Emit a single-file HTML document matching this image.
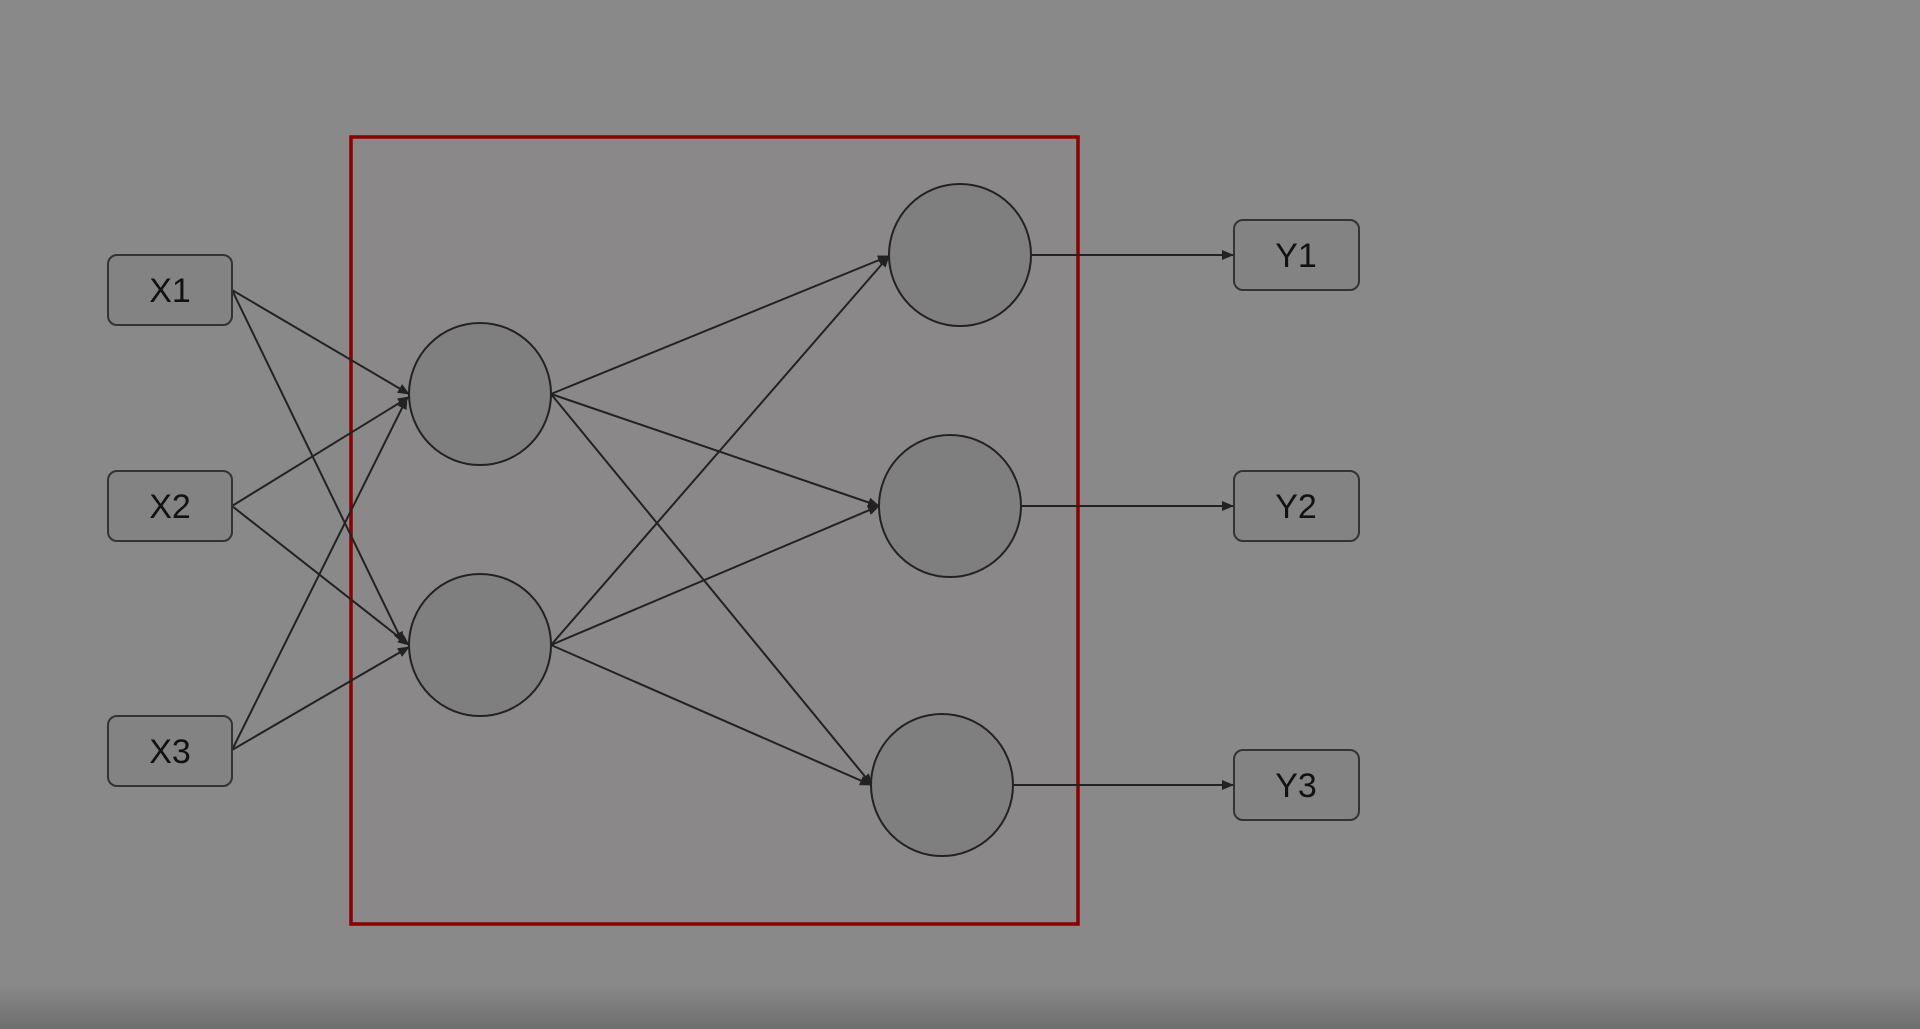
<!DOCTYPE html>
<html><head><style>
html,body{margin:0;padding:0;}
body{width:1920px;height:1029px;overflow:hidden;background:linear-gradient(to bottom,#898989 0,#898989 985px,#6e6e6e 1029px);}
svg{position:absolute;left:0;top:0;}
text{font-family:"Liberation Sans",sans-serif;font-size:34px;fill:#111;}
</style></head><body>
<svg width="1920" height="1029">
<defs><marker id="a" markerWidth="12" markerHeight="10" refX="11" refY="5" orient="auto" markerUnits="userSpaceOnUse"><path d="M0,0 L12,5 L0,10 z" fill="#222"/></marker></defs>
<rect x="351" y="137" width="727" height="787" fill="#8a8888" stroke="#8b0000" stroke-width="3.5"/>
<g stroke="#222" stroke-width="2" fill="none" marker-end="url(#a)">
<line x1="232" y1="290" x2="409" y2="394"/>
<line x1="232" y1="290" x2="403" y2="643"/>
<line x1="232" y1="506" x2="409" y2="397"/>
<line x1="232" y1="506" x2="409" y2="645"/>
<line x1="232" y1="750" x2="407" y2="398"/>
<line x1="232" y1="750" x2="409" y2="647"/>
<line x1="551" y1="394" x2="889" y2="256"/>
<line x1="551" y1="394" x2="879" y2="506"/>
<line x1="551" y1="394" x2="872" y2="785"/>
<line x1="551" y1="645" x2="889" y2="256"/>
<line x1="551" y1="645" x2="879" y2="506"/>
<line x1="551" y1="645" x2="871" y2="785"/>
<line x1="1031" y1="255" x2="1233" y2="255"/>
<line x1="1021" y1="506" x2="1233" y2="506"/>
<line x1="1013" y1="785" x2="1233" y2="785"/>
</g>
<g fill="#7f7f7f" stroke="#222" stroke-width="2">
<circle cx="480" cy="394" r="71"/><circle cx="480" cy="645" r="71"/>
<circle cx="960" cy="255" r="71"/><circle cx="950" cy="506" r="71"/><circle cx="942" cy="785" r="71"/>
</g>
<g fill="#838383" stroke="#333" stroke-width="2">
<rect x="108" y="255" width="124" height="70" rx="9"/>
<rect x="108" y="471" width="124" height="70" rx="9"/>
<rect x="108" y="716" width="124" height="70" rx="9"/>
<rect x="1234" y="220" width="125" height="70" rx="9"/>
<rect x="1234" y="471" width="125" height="70" rx="9"/>
<rect x="1234" y="750" width="125" height="70" rx="9"/>
</g>
<g text-anchor="middle">
<text x="170" y="302">X1</text><text x="170" y="518">X2</text><text x="170" y="763">X3</text>
<text x="1296" y="267">Y1</text><text x="1296" y="518">Y2</text><text x="1296" y="797">Y3</text>
</g>
</svg>
</body></html>
